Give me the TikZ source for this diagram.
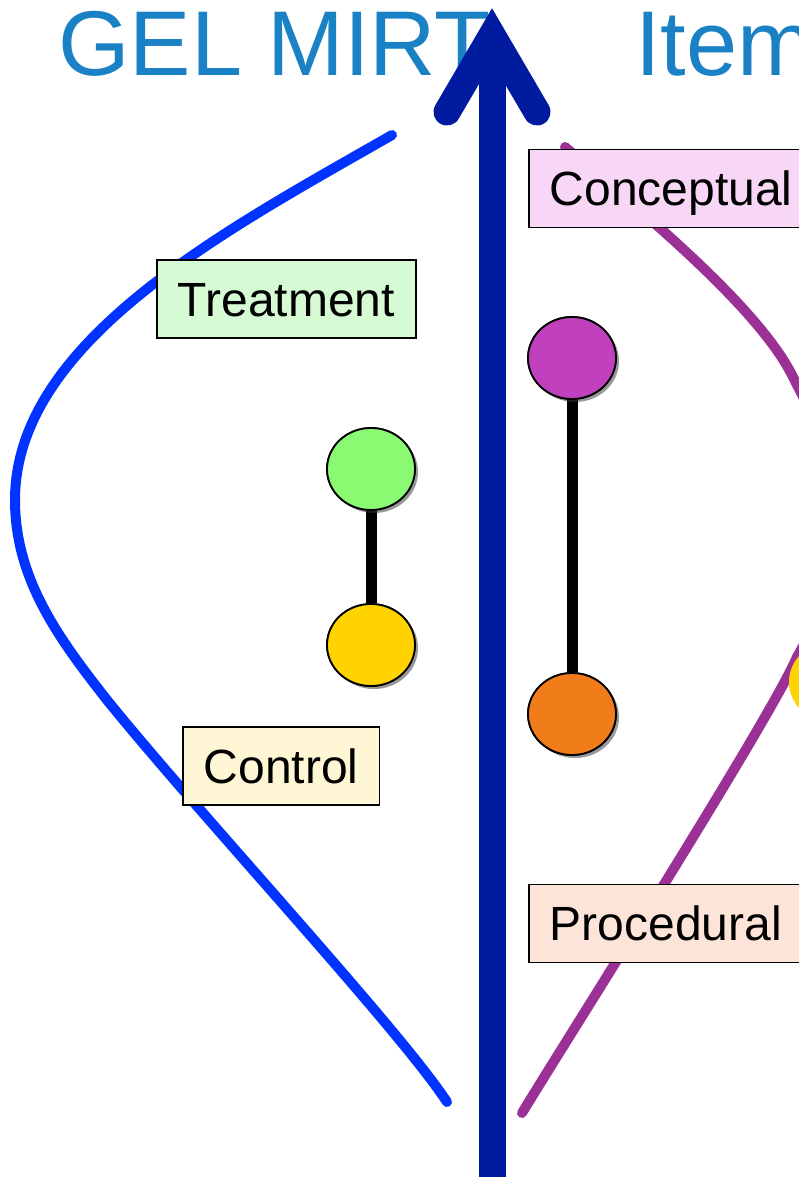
\documentclass[tikz,border=0pt]{standalone}
\usepackage{fontspec}
\setmainfont{Liberation Sans}
\usetikzlibrary{shapes.geometric,shadows}

\definecolor{titleblue}{RGB}{26,130,196}
\definecolor{axisblue}{RGB}{0,27,160}
\definecolor{treatcurve}{RGB}{0,51,255}
\definecolor{itemcurve}{RGB}{155,48,150}
\definecolor{dotgreen}{RGB}{138,250,114}
\definecolor{dotyellow}{RGB}{255,211,0}
\definecolor{dotpurple}{RGB}{192,64,190}
\definecolor{dotorange}{RGB}{240,124,26}
\definecolor{fillgreen}{RGB}{214,250,212}
\definecolor{fillcream}{RGB}{255,246,213}
\definecolor{fillpink}{RGB}{247,215,245}
\definecolor{fillpeach}{RGB}{252,228,216}

\tikzset{
  title/.style={text=titleblue, font=\fontsize{92}{100}\selectfont, inner sep=0pt, anchor=base west},
  density/.style={line width=10pt, line cap=round, line join=round},
  tag/.style={draw=black, line width=1.6pt, anchor=west, inner xsep=21pt, inner ysep=0pt,
    minimum height=78pt, text height=34pt, text depth=0pt, font=\fontsize{48}{56}\selectfont},
  dot/.style={ellipse, draw=black, line width=1.8pt, minimum width=88pt, minimum height=82pt,
    inner sep=0pt, drop shadow={shadow xshift=3pt, shadow yshift=-3pt, opacity=0.35, fill=black!70}},
  stem/.style={line width=11pt, black},
  axis/.style={line width=27pt, axisblue}
}

\begin{document}
\begin{tikzpicture}[x=1pt, y=-1pt]
  \useasboundingbox (0,0) rectangle (799,1177);
  \clip (0,0) rectangle (799,1177);

  % headings
  \node[title] (hgel) at (58,76) {GEL MIRT};
  \node[title] (hitem) at (635,76) {Item};

  % group distribution (left)
  \draw[density, treatcurve] (392,135)
    .. controls (230,228) and (15,340) .. (15,500)
    .. controls (15,580) and (60,640) .. (107,700)
    .. controls (200,815) and (400,1030) .. (447,1102);

  % item distribution (right)
  \draw[density, itemcurve] (565,147)
    .. controls (650,218) and (760,310) .. (793,377)
    .. controls (820,430) and (840,470) .. (840,520)
    .. controls (840,580) and (815,625) .. (797,657)
    .. controls (770,720) and (560,1050) .. (522,1113);

  % labels
  \node[tag, fill=fillgreen] (treat) at (156,299) {Treatment};
  \node[tag, fill=fillcream] (ctrl) at (182,766) {Control};
  \node[tag, fill=fillpink] (concept) at (528,188.5) {Conceptual\hspace{80pt}};
  \node[tag, fill=fillpeach] (proc) at (528,923.5) {Procedural\hspace{80pt}};

  % group means
  \node[dot, fill=dotgreen] (gtreat) at (371,469) {};
  \node[dot, fill=dotyellow] (gctrl) at (371,645) {};
  \draw[stem] (gtreat) -- (gctrl);
  \node[dot, fill=dotgreen] at (gtreat) {};
  \node[dot, fill=dotyellow] at (gctrl) {};

  % item means
  \node[dot, fill=dotpurple] (iconc) at (572,358) {};
  \node[dot, fill=dotorange] (iproc) at (572,714) {};
  \draw[stem] (iconc) -- (iproc);
  \node[dot, fill=dotpurple] at (iconc) {};
  \node[dot, fill=dotorange] at (iproc) {};

  \node[dot, draw=none, fill=dotyellow] (iedge) at (833,682) {};

  % vertical scale arrow
  \coordinate (tip) at (492,35);
  \coordinate (foot) at (492,1200);
  \coordinate (barbl) at (447,112);
  \coordinate (barbr) at (537,112);
  \draw[axis] (foot) -- (tip);
  \draw[axis, line cap=round, line join=miter] (barbl) -- (tip) -- (barbr);
\end{tikzpicture}
\end{document}
